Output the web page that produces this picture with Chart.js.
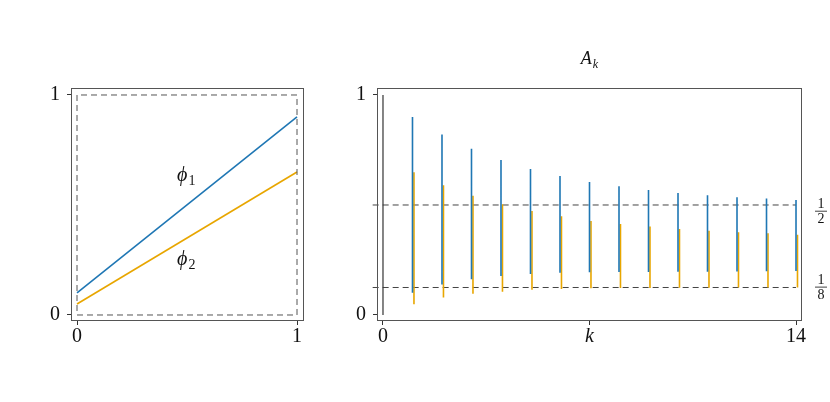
<!DOCTYPE html>
<html><head><meta charset="utf-8">
<script src="https://cdn.jsdelivr.net/npm/chart.js@4"></script>
<style>
html,body{margin:0;padding:0;background:#fff;width:830px;height:402px;overflow:hidden}
canvas{position:absolute;top:0}
#c1{left:0}
#c2{left:330px}
</style></head><body>
<canvas id="c1" width="330" height="402"></canvas>
<canvas id="c2" width="500" height="402"></canvas>
<script>
// ---------- data ----------
const phiX = [0, 1];
const phi1 = [0.10, 0.90];
const phi2 = [0.05, 0.65];
const boxX = [0, 1, 1, 0, 0];
const boxY = [0, 0, 1, 1, 0];
const phiLabels = [
  {x: 0.455, y: 0.609, main: 'ϕ', sub: '1'},
  {x: 0.455, y: 0.227, main: 'ϕ', sub: '2'}
];
const leftTicks = [0, 1];
const leftTickLabels = ['0', '1'];

const kValues  = [1, 2, 3, 4, 5, 6, 7, 8, 9, 10, 11, 12, 13, 14];
const blueHi   = [0.900, 0.821, 0.756, 0.705, 0.664, 0.632, 0.605, 0.585, 0.568, 0.555, 0.544, 0.535, 0.529, 0.523];
const blueLo   = [0.101, 0.139, 0.162, 0.177, 0.186, 0.192, 0.194, 0.195, 0.195, 0.197, 0.197, 0.198, 0.199, 0.200];
const orangeHi = [0.649, 0.590, 0.542, 0.503, 0.473, 0.449, 0.427, 0.414, 0.402, 0.391, 0.383, 0.376, 0.371, 0.365];
const orangeLo = [0.049, 0.079, 0.097, 0.106, 0.115, 0.118, 0.121, 0.123, 0.123, 0.124, 0.124, 0.125, 0.125, 0.125];
const a0 = [0, 1];
const levels = [0.5, 0.125];
const levelX = [-0.35, 14];
const levelLabels = [{y: 0.474, num: '1', den: '2'}, {y: 0.129, num: '1', den: '8'}];
const rightXTicks = [0, 7, 14];
const rightXTickLabels = ['0', 'k', '14'];
const rightYTicks = [0, 1];
const rightYTickLabels = ['0', '1'];

// ---------- helpers ----------
const FAM = "'Liberation Serif', 'DejaVu Serif', serif";
const BLUE = '#1f77b4';
const ORANGE = '#E8A600';

function pts(xs, ys) { return xs.map((x, i) => ({x: x, y: ys[i]})); }
function segs(xs, lo, hi, dx) {
  const out = [];
  xs.forEach((k, i) => { out.push({x: k + dx, y: lo[i]}, {x: k + dx, y: hi[i]}, {x: k + dx, y: null}); });
  return out;
}
function axis(min, max, ticks, labels, isX, fit, pad) {
  return {
    type: 'linear', min: min, max: max,
    afterBuildTicks: s => { s.ticks = ticks.map(v => ({value: v})); },
    afterFit: s => { if (isX) s.height = fit; else s.width = fit; },
    grid: {display: true, drawOnChartArea: false, drawTicks: true, tickLength: 4, tickWidth: 1, tickColor: '#333'},
    border: {display: false},
    ticks: {
      padding: pad, color: '#111', autoSkip: false, maxRotation: 0,
      font: ctx => ({family: FAM, size: 20, style: (ctx.tick && labels[ticks.indexOf(ctx.tick.value)] === 'k') ? 'italic' : 'normal'}),
      callback: v => labels[ticks.indexOf(v)]
    }
  };
}
const framePlugin = {
  id: 'frame',
  afterDraw(chart) {
    const a = chart.chartArea, c = chart.ctx;
    c.save(); c.strokeStyle = '#555'; c.lineWidth = 1;
    c.strokeRect(Math.round(a.left) + 0.5, Math.round(a.top) + 0.5, Math.round(a.right - a.left) - 1, Math.round(a.bottom - a.top) - 1);
    c.restore();
  }
};
function drawSub(c, x, y, main, sub, size) {
  c.fillStyle = '#111'; c.textBaseline = 'alphabetic'; c.textAlign = 'left';
  c.font = `italic ${size}px ${FAM}`;
  c.fillText(main, x, y);
  const w = c.measureText(main).width;
  c.font = `${Math.round(size * 0.72)}px ${FAM}`;
  c.fillText(sub, x + w + 1, y + size * 0.22);
}
const common = {
  responsive: false, animation: false,
  plugins: {legend: {display: false}, tooltip: {enabled: false}},
  elements: {point: {radius: 0}, line: {tension: 0}}
};

// ---------- left chart ----------
new Chart(document.getElementById('c1'), {
  type: 'scatter',
  data: {datasets: [
    {data: pts(boxX, boxY), showLine: true, borderColor: '#555', borderWidth: 1, borderDash: [6, 4], clip: false},
    {data: pts(phiX, phi1), showLine: true, borderColor: BLUE, borderWidth: 1.6},
    {data: pts(phiX, phi2), showLine: true, borderColor: ORANGE, borderWidth: 1.6}
  ]},
  options: Object.assign({}, common, {
    layout: {padding: {left: 41, top: 88, right: 26, bottom: 41}},
    scales: {
      x: axis(-0.0273, 1.0318, leftTicks, leftTickLabels, true, 40, 0),
      y: axis(-0.0273, 1.0318, leftTicks, leftTickLabels, false, 30, 7)
    }
  }),
  plugins: [framePlugin, {
    id: 'phiText',
    afterDraw(chart) {
      const c = chart.ctx, xs = chart.scales.x, ys = chart.scales.y;
      c.save();
      phiLabels.forEach(l => drawSub(c, xs.getPixelForValue(l.x), ys.getPixelForValue(l.y), l.main, l.sub, 20));
      c.restore();
    }
  }]
});

// ---------- right chart ----------
new Chart(document.getElementById('c2'), {
  type: 'scatter',
  data: {datasets: [
    {data: pts([0, 0], a0), showLine: true, borderColor: '#333', borderWidth: 1.2},
    {data: segs(kValues, blueLo, blueHi, 0), showLine: true, spanGaps: false, borderColor: BLUE, borderWidth: 1.6},
    {data: segs(kValues, orangeLo, orangeHi, 0.05), showLine: true, spanGaps: false, borderColor: ORANGE, borderWidth: 1.6},
    {data: pts(levelX, [levels[0], levels[0]]), showLine: true, borderColor: '#444', borderWidth: 1, borderDash: [6, 4], clip: false},
    {data: pts(levelX, [levels[1], levels[1]]), showLine: true, borderColor: '#444', borderWidth: 1, borderDash: [6, 4], clip: false}
  ]},
  options: Object.assign({}, common, {
    layout: {padding: {left: 17, top: 88, right: 28, bottom: 41}},
    scales: {
      x: axis(-0.203, 14.203, rightXTicks, rightXTickLabels, true, 40, 0),
      y: axis(-0.0273, 1.0318, rightYTicks, rightYTickLabels, false, 30, 7)
    }
  }),
  plugins: [framePlugin, {
    id: 'rightText',
    afterDraw(chart) {
      const c = chart.ctx, ys = chart.scales.y, a = chart.chartArea;
      c.save();
      // title A_k
      c.font = `italic 18px ${FAM}`;
      const wA = c.measureText('A').width;
      c.font = `italic 12px ${FAM}`;
      const wk = c.measureText('k').width;
      const cx = (a.left + a.right) / 2;
      const x0 = cx - (wA + wk + 1) / 2;
      c.fillStyle = '#111'; c.textBaseline = 'alphabetic'; c.textAlign = 'left';
      c.font = `italic 18px ${FAM}`;
      c.fillText('A', x0, 64);
      c.font = `italic 12px ${FAM}`;
      c.fillText('k', x0 + wA + 1, 68);
      // fractions
      const fx = a.right + 19;
      levelLabels.forEach(l => {
        const by = ys.getPixelForValue(l.y);
        c.font = `14px ${FAM}`;
        c.textAlign = 'center';
        c.fillText(l.num, fx, by - 2.5);
        c.fillText(l.den, fx, by + 12);
        c.strokeStyle = '#111'; c.lineWidth = 0.8;
        c.beginPath(); c.moveTo(fx - 6, by + 0.5); c.lineTo(fx + 6, by + 0.5); c.stroke();
      });
      c.restore();
    }
  }]
});
</script>
</body></html>
